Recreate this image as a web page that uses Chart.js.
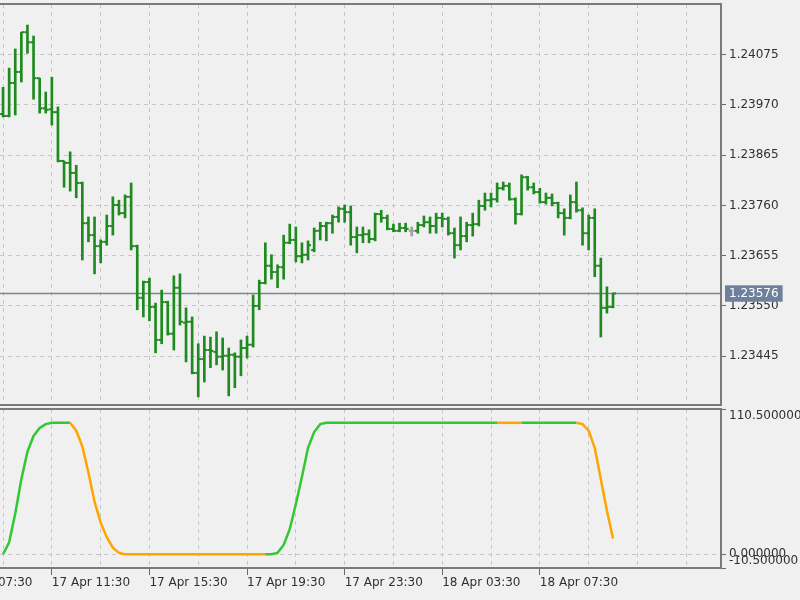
<!DOCTYPE html>
<html lang="en">
<head>
<meta charset="UTF-8">
<title>M15 bars with trend oscillator</title>
<script src="https://cdn.jsdelivr.net/npm/chart.js"></script>
<style>
  body { margin: 0; background: #f0f0f0; width: 800px; height: 600px; overflow: hidden; position: relative; }
  canvas { position: absolute; left: 0; }
  #price { top: 0; }
  #osc { top: 406px; }
</style>
</head>
<body>
<canvas id="price" width="800" height="406"></canvas>
<canvas id="osc" width="800" height="194"></canvas>
<script>
// 15 minute bars, first one 17 Apr 09:30, last one 18 Apr 10:30
const opens = [
  1.23951, 1.23947, 1.24016, 1.24039, 1.24122, 1.24101, 1.24026, 1.23963, 1.23961, 1.23955,
  1.23853, 1.23849, 1.23828, 1.23807, 1.23723, 1.23698, 1.23675, 1.23684, 1.23717, 1.23761,
  1.23744, 1.23778, 1.23675, 1.23567, 1.23600, 1.23548, 1.23479, 1.23558, 1.23492, 1.23588,
  1.23515, 1.23517, 1.23410, 1.23439, 1.23458, 1.23454, 1.23444, 1.23446, 1.23448, 1.23444,
  1.23462, 1.23469, 1.23550, 1.23598, 1.23634, 1.23621, 1.23631, 1.23682, 1.23688, 1.23654,
  1.23657, 1.23667, 1.23707, 1.23717, 1.23723, 1.23736, 1.23753, 1.23746, 1.23694, 1.23698,
  1.23700, 1.23690, 1.23742, 1.23734, 1.23711, 1.23707, 1.23713, 1.23707, 1.23707, 1.23719,
  1.23725, 1.23717, 1.23734, 1.23732, 1.23702, 1.23677, 1.23696, 1.23719, 1.23721, 1.23759,
  1.23771, 1.23773, 1.23796, 1.23801, 1.23773, 1.23742, 1.23819, 1.23798, 1.23788, 1.23767,
  1.23776, 1.23765, 1.23744, 1.23734, 1.23767, 1.23750, 1.23702, 1.23734, 1.23634, 1.23546,
  1.23548
];
const highs = [
  1.24007, 1.24047, 1.24087, 1.24122, 1.24137, 1.24114, 1.24026, 1.23997, 1.24028, 1.23966,
  1.23853, 1.23872, 1.23844, 1.23809, 1.23736, 1.23736, 1.23688, 1.23740, 1.23778, 1.23771,
  1.23782, 1.23807, 1.23677, 1.23602, 1.23608, 1.23556, 1.23583, 1.23560, 1.23613, 1.23617,
  1.23546, 1.23527, 1.23471, 1.23487, 1.23485, 1.23496, 1.23483, 1.23462, 1.23452, 1.23479,
  1.23487, 1.23573, 1.23604, 1.23682, 1.23657, 1.23636, 1.23698, 1.23721, 1.23715, 1.23682,
  1.23686, 1.23713, 1.23725, 1.23725, 1.23740, 1.23757, 1.23761, 1.23759, 1.23715, 1.23715,
  1.23709, 1.23744, 1.23750, 1.23740, 1.23721, 1.23723, 1.23723, 1.23715, 1.23725, 1.23738,
  1.23736, 1.23744, 1.23744, 1.23736, 1.23713, 1.23736, 1.23725, 1.23744, 1.23771, 1.23786,
  1.23786, 1.23807, 1.23809, 1.23807, 1.23776, 1.23824, 1.23821, 1.23807, 1.23796, 1.23786,
  1.23784, 1.23767, 1.23753, 1.23782, 1.23809, 1.23755, 1.23740, 1.23753, 1.23650, 1.23590,
  1.23577
];
const lows = [
  1.23945, 1.23945, 1.23949, 1.24018, 1.24078, 1.23982, 1.23953, 1.23953, 1.23928, 1.23851,
  1.23798, 1.23790, 1.23776, 1.23646, 1.23684, 1.23617, 1.23640, 1.23677, 1.23698, 1.23740,
  1.23734, 1.23667, 1.23542, 1.23527, 1.23519, 1.23452, 1.23471, 1.23489, 1.23458, 1.23510,
  1.23433, 1.23408, 1.23360, 1.23391, 1.23421, 1.23427, 1.23416, 1.23362, 1.23379, 1.23404,
  1.23441, 1.23464, 1.23542, 1.23596, 1.23606, 1.23588, 1.23606, 1.23680, 1.23642, 1.23640,
  1.23646, 1.23663, 1.23688, 1.23686, 1.23702, 1.23725, 1.23725, 1.23677, 1.23661, 1.23682,
  1.23682, 1.23686, 1.23725, 1.23709, 1.23705, 1.23705, 1.23705, 1.23696, 1.23702, 1.23715,
  1.23702, 1.23702, 1.23715, 1.23698, 1.23650, 1.23667, 1.23684, 1.23696, 1.23717, 1.23750,
  1.23757, 1.23767, 1.23792, 1.23771, 1.23721, 1.23740, 1.23792, 1.23784, 1.23765, 1.23763,
  1.23759, 1.23734, 1.23698, 1.23732, 1.23746, 1.23677, 1.23667, 1.23611, 1.23485, 1.23535,
  1.23546
];
const closes = [
  1.23947, 1.24016, 1.24039, 1.24122, 1.24101, 1.24026, 1.23963, 1.23960, 1.23955, 1.23853,
  1.23849, 1.23828, 1.23807, 1.23723, 1.23698, 1.23675, 1.23684, 1.23717, 1.23761, 1.23744,
  1.23778, 1.23675, 1.23567, 1.23600, 1.23548, 1.23479, 1.23558, 1.23492, 1.23588, 1.23517,
  1.23517, 1.23410, 1.23439, 1.23458, 1.23456, 1.23444, 1.23446, 1.23448, 1.23444, 1.23462,
  1.23469, 1.23550, 1.23598, 1.23634, 1.23621, 1.23631, 1.23682, 1.23688, 1.23654, 1.23657,
  1.23677, 1.23707, 1.23717, 1.23723, 1.23736, 1.23753, 1.23746, 1.23694, 1.23698, 1.23700,
  1.23690, 1.23742, 1.23734, 1.23711, 1.23707, 1.23713, 1.23711, 1.23707, 1.23719, 1.23725,
  1.23717, 1.23734, 1.23732, 1.23702, 1.23677, 1.23696, 1.23719, 1.23721, 1.23759, 1.23771,
  1.23773, 1.23796, 1.23801, 1.23773, 1.23742, 1.23819, 1.23798, 1.23788, 1.23767, 1.23776,
  1.23765, 1.23744, 1.23734, 1.23767, 1.23750, 1.23702, 1.23734, 1.23634, 1.23546, 1.23548,
  1.23576
];

// oscillator, one value per bar; state 1 = rising (green), -1 = falling (orange)
const oscValues = [
  0, 9, 31, 57, 78, 90, 96, 99, 100, 100,
  100, 100, 94, 82, 62, 40, 24, 13, 5, 1,
  0, 0, 0, 0, 0, 0, 0, 0, 0, 0,
  0, 0, 0, 0, 0, 0, 0, 0, 0, 0,
  0, 0, 0, 0, 0, 1, 7, 19, 38, 59,
  81, 93, 99, 100, 100, 100, 100, 100, 100, 100,
  100, 100, 100, 100, 100, 100, 100, 100, 100, 100,
  100, 100, 100, 100, 100, 100, 100, 100, 100, 100,
  100, 100, 100, 100, 100, 100, 100, 100, 100, 100,
  100, 100, 100, 100, 100, 99, 94, 81, 57, 33,
  12
];
const oscState = [
  1, 1, 1, 1, 1, 1, 1, 1, 1, 1,
  1, 1, -1, -1, -1, -1, -1, -1, -1, -1,
  -1, -1, -1, -1, -1, -1, -1, -1, -1, -1,
  -1, -1, -1, -1, -1, -1, -1, -1, -1, -1,
  -1, -1, -1, -1, 1, 1, 1, 1, 1, 1,
  1, 1, 1, 1, 1, 1, 1, 1, 1, 1,
  1, 1, 1, 1, 1, 1, 1, 1, 1, 1,
  1, 1, 1, 1, 1, 1, 1, 1, 1, 1,
  1, 1, -1, -1, -1, -1, 1, 1, 1, 1,
  1, 1, 1, 1, 1, -1, -1, -1, -1, -1,
  -1
];

const priceTicks = [1.23445, 1.23550, 1.23655, 1.23760, 1.23865, 1.23970, 1.24075];
const oscTicks = [-10.5, 0, 110.5];
const timeLabels = ['17 Apr 07:30', '17 Apr 11:30', '17 Apr 15:30', '17 Apr 19:30',
                    '17 Apr 23:30', '18 Apr 03:30', '18 Apr 07:30'];
const firstLabelBar = -8;   // 17 Apr 07:30, eight bars before the first one

// visible window
const xMin = -0.5, xMax = 117.7;
const priceMin = 1.23343, priceMax = 1.24181;
const oscMin = -10.5, oscMax = 110.5;
const BARS_PER_GRID = 8, BARS_PER_LABEL = 16;

const BAR = '#1f8a1f', DOJI = '#a0a0a0';
const UP = '#32c832', DOWN = '#ffa500';
const GRID = '#c6c6c6', AXIS = '#6a6a6a', TEXT = '#303030';
const PRICE_LINE = '#7a8696', PRICE_BOX = '#6e819c';

Chart.defaults.font.family = 'DejaVu Sans';
Chart.defaults.font.size = 12;
Chart.defaults.color = TEXT;

const lastPrice = closes[closes.length - 1];
const idx = opens.map((_, i) => i);
const barColors = idx.map(i => opens[i] === closes[i] ? DOJI : BAR);

const gridBars = [];
for (let v = firstLabelBar; v <= xMax; v += BARS_PER_GRID) gridBars.push(v);

function labelFor(v) {
  const k = (v - firstLabelBar) / BARS_PER_LABEL;
  return Number.isInteger(k) && k >= 0 && k < timeLabels.length ? timeLabels[k] : '';
}

function timeAxis(showLabels) {
  return {
    type: 'linear', min: xMin, max: xMax, bounds: 'data', offset: false,
    afterBuildTicks: s => { s.ticks = gridBars.map(v => ({ value: v })); },
    afterFit: s => { s.height = showLabels ? 32 : 0; s.paddingLeft = 0; s.paddingRight = 0; },
    ticks: {
      display: showLabels, autoSkip: false, maxRotation: 0, align: 'start', padding: 1,
      callback: v => labelFor(v)
    },
    grid: {
      offset: false, color: GRID, drawTicks: showLabels, tickLength: 7, tickBorderDash: [],
      tickColor: c => labelFor(c.tick.value) ? AXIS : 'transparent'
    },
    border: { display: false, dash: [4, 4] }
  };
}

// border round each panel (top, right, bottom)
const panelFrame = {
  id: 'panelFrame',
  afterDraw(chart) {
    const { ctx, chartArea: a } = chart;
    ctx.save();
    ctx.strokeStyle = '#7a7a7a';
    ctx.lineWidth = 2;
    ctx.beginPath();
    ctx.moveTo(a.left, a.top);
    ctx.lineTo(a.right, a.top);
    ctx.lineTo(a.right, a.bottom);
    ctx.lineTo(a.left, a.bottom);
    ctx.stroke();
    ctx.restore();
  }
};

const common = {
  responsive: false,
  animation: false,
  events: [],
  plugins: { legend: { display: false }, tooltip: { enabled: false } }
};

new Chart(document.getElementById('price'), {
  type: 'bar',
  data: {
    datasets: [
      {
        type: 'bar',
        data: idx.map(i => ({ x: i, y: [lows[i], highs[i]] })),
        backgroundColor: barColors,
        barThickness: 2,
        order: 1
      },
      {
        type: 'line', showLine: false,
        data: idx.map(i => ({ x: i, y: opens[i] })),
        pointStyle: 'dash', pointRotation: 180, pointRadius: 3,
        pointBorderWidth: 2, pointBorderColor: barColors, pointBackgroundColor: barColors,
        order: 1
      },
      {
        type: 'line', showLine: false,
        data: idx.map(i => ({ x: i, y: closes[i] })),
        pointStyle: 'dash', pointRotation: 0, pointRadius: 3,
        pointBorderWidth: 2, pointBorderColor: barColors, pointBackgroundColor: barColors,
        order: 1
      },
      {
        type: 'line',
        data: [{ x: xMin, y: lastPrice }, { x: xMax, y: lastPrice }],
        borderColor: PRICE_LINE, borderWidth: 1.5, pointRadius: 0,
        order: 5
      }
    ]
  },
  options: Object.assign({}, common, {
    layout: { autoPadding: false, padding: { top: 4, bottom: 1, left: 0, right: 0 } },
    scales: {
      x: timeAxis(false),
      y: {
        type: 'linear', position: 'right', min: priceMin, max: priceMax, bounds: 'data',
        afterBuildTicks: s => { s.ticks = priceTicks.concat(lastPrice).map(v => ({ value: v })); },
        afterFit: s => { s.width = 79; s.paddingTop = 0; s.paddingBottom = 0; },
        ticks: {
          autoSkip: false, padding: 3,
          callback: v => v.toFixed(5),
          color: c => c.tick.value === lastPrice ? '#ffffff' : TEXT,
          showLabelBackdrop: c => c.tick.value === lastPrice,
          backdropColor: PRICE_BOX,
          backdropPadding: { left: 4, right: 4, top: 1, bottom: 1 }
        },
        grid: {
          color: c => c.tick.value === lastPrice ? 'transparent' : GRID,
          tickLength: 5, tickBorderDash: [],
          tickColor: c => c.tick.value === lastPrice ? 'transparent' : AXIS
        },
        border: { display: false, dash: [4, 4] }
      }
    }
  }),
  plugins: [panelFrame]
});

new Chart(document.getElementById('osc'), {
  type: 'line',
  data: {
    datasets: [{
      data: idx.map(i => ({ x: i, y: oscValues[i] })),
      borderWidth: 2.5,
      pointRadius: 0,
      tension: 0,
      borderColor: UP,
      segment: { borderColor: c => oscState[c.p1DataIndex] > 0 ? UP : DOWN }
    }]
  },
  options: Object.assign({}, common, {
    layout: { autoPadding: false, padding: { top: 3, bottom: 0, left: 0, right: 0 } },
    scales: {
      x: timeAxis(true),
      y: {
        type: 'linear', position: 'right', min: oscMin, max: oscMax, bounds: 'data',
        afterBuildTicks: s => { s.ticks = oscTicks.map(v => ({ value: v })); },
        afterFit: s => { s.width = 79; s.paddingTop = 0; s.paddingBottom = 0; },
        ticks: {
          autoSkip: false, padding: 3,
          callback: v => v === oscMax ? ['', v.toFixed(6)] : v === oscMin ? [v.toFixed(6), ''] : v.toFixed(6)
        },
        grid: { color: GRID, tickLength: 5, tickBorderDash: [], tickColor: AXIS },
        border: { display: false, dash: [4, 4] }
      }
    }
  }),
  plugins: [panelFrame]
});
</script>
</body>
</html>
